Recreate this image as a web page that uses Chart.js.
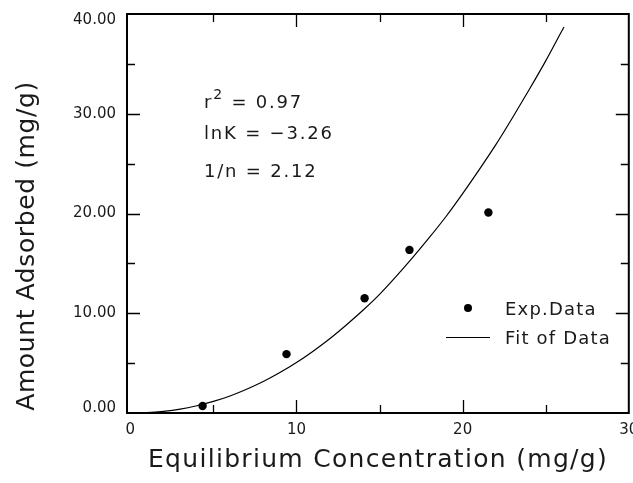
<!DOCTYPE html>
<html>
<head>
<meta charset="utf-8">
<script src="https://cdn.jsdelivr.net/npm/chart.js@4.4.1/dist/chart.umd.min.js"></script>
<style>
  html, body { margin: 0; padding: 0; background: #fff; }
  #c { display: block; }
</style>
</head>
<body>
<canvas id="c" width="633" height="483"></canvas>
<script>
// ---- data ----
const expC = [4.35, 9.4, 14.1, 16.8, 21.55];
const expQ = [0.7, 5.9, 11.5, 16.35, 20.1];
const fitC = [0, 1, 2, 3, 4, 5, 6, 7, 8, 9, 10, 11, 12, 13, 14, 15, 16, 17, 18, 19, 20, 21, 22, 23, 24, 25, 26, 26.1];
const fitQ = [0, 0.04, 0.17, 0.39, 0.73, 1.16, 1.71, 2.38, 3.15, 4.05, 5.06, 6.2, 7.45, 8.83, 10.3, 11.9, 13.7, 15.6, 17.6, 19.7, 22.0, 24.4, 26.9, 29.6, 32.4, 35.3, 38.4, 38.7];
const xTicks = [0, 10, 20, 30];
const yTicks = [0, 10, 20, 30, 40];
const xMinor = [5, 15, 25];
const yMinor = [5, 15, 25, 35];
const seriesNames = ['Exp.Data', 'Fit of Data'];
const annotations = ['= 0.97', 'lnK = \u22123.26', '1/n = 2.12'];
const xTitle = 'Equilibrium Concentration (mg/g)';
const yTitle = 'Amount Adsorbed (mg/g)';

const FONT = '"DejaVu Sans", "Liberation Sans", sans-serif';
const TXT = '#1a1a1a';

function spaced(ctx, px) {
  if ('letterSpacing' in ctx) ctx.letterSpacing = px + 'px';
}

const framePlugin = {
  id: 'frame',
  afterDraw(chart) {
    const { ctx, chartArea: a, scales } = chart;
    const xs = scales.x, ys = scales.y;
    ctx.save();
    ctx.strokeStyle = '#000';
    ctx.lineWidth = 2;
    ctx.strokeRect(a.left, a.top, a.right - a.left, a.bottom - a.top);
    ctx.lineWidth = 1.3;
    const big = 13, small = 8;
    ctx.beginPath();
    const drawX = (v, len) => {
      const px = Math.round(xs.getPixelForValue(v)) + 0.5;
      ctx.moveTo(px, a.bottom); ctx.lineTo(px, a.bottom - len);
      ctx.moveTo(px, a.top); ctx.lineTo(px, a.top + len);
    };
    const drawY = (v, len) => {
      const py = Math.round(ys.getPixelForValue(v)) + 0.5;
      ctx.moveTo(a.left, py); ctx.lineTo(a.left + len, py);
      ctx.moveTo(a.right, py); ctx.lineTo(a.right - len, py);
    };
    xTicks.forEach(v => { if (v > 0 && v < 30) drawX(v, big); });
    xMinor.forEach(v => drawX(v, small));
    yTicks.forEach(v => { if (v > 0 && v < 40) drawY(v, big); });
    yMinor.forEach(v => drawY(v, small));
    ctx.stroke();

    // y tick labels (end labels nudged inside the frame, as in the reference)
    ctx.fillStyle = TXT;
    ctx.font = '15px ' + FONT;
    ctx.textAlign = 'right';
    ctx.textBaseline = 'middle';
    yTicks.forEach(v => {
      let py = ys.getPixelForValue(v);
      if (v === 40) py += 6;
      if (v === 0) py -= 5;
      ctx.fillText(v.toFixed(2), a.left - 11, py);
    });

    // annotations
    ctx.textAlign = 'left';
    const ax = 204;
    spaced(ctx, 1.8);
    ctx.font = '18px ' + FONT;
    ctx.fillText('r', ax, 103);
    const rw = ctx.measureText('r').width;
    ctx.font = '14px ' + FONT;
    ctx.fillText('2', ax + rw, 95);
    const sw = ctx.measureText('2').width;
    ctx.font = '18px ' + FONT;
    ctx.fillText(' ' + annotations[0], ax + rw + sw, 103);
    ctx.fillText(annotations[1], ax, 134);
    ctx.fillText(annotations[2], ax, 172);

    // legend
    ctx.fillStyle = '#000';
    ctx.beginPath();
    ctx.arc(468, 308, 4, 0, Math.PI * 2);
    ctx.fill();
    ctx.strokeStyle = '#000';
    ctx.lineWidth = 1.2;
    ctx.beginPath();
    ctx.moveTo(446, 337.5); ctx.lineTo(490, 337.5);
    ctx.stroke();
    ctx.fillStyle = TXT;
    spaced(ctx, 1.2);
    ctx.font = '18px ' + FONT;
    ctx.fillText(seriesNames[0], 505, 310);
    ctx.fillText(seriesNames[1], 505, 339);

    // axis titles
    ctx.font = '25px ' + FONT;
    ctx.textAlign = 'center';
    spaced(ctx, 1.3);
    ctx.fillText(xTitle, 378, 460);
    ctx.save();
    ctx.translate(27, 246);
    ctx.rotate(-Math.PI / 2);
    spaced(ctx, 0.6);
    ctx.fillText(yTitle, 0, 0);
    ctx.restore();
    ctx.restore();
  }
};

new Chart(document.getElementById('c'), {
  type: 'scatter',
  data: {
    datasets: [
      {
        label: seriesNames[0],
        data: expC.map((c, i) => ({ x: c, y: expQ[i] })),
        pointRadius: 4.2,
        pointBackgroundColor: '#000',
        pointBorderColor: '#000',
        pointBorderWidth: 0,
        showLine: false
      },
      {
        label: seriesNames[1],
        data: fitC.map((c, i) => ({ x: c, y: fitQ[i] })),
        showLine: true,
        pointRadius: 0,
        borderColor: '#000',
        borderWidth: 1.2,
        cubicInterpolationMode: 'monotone',
        fill: false
      }
    ]
  },
  options: {
    responsive: false,
    devicePixelRatio: 1,
    animation: false,
    events: [],
    layout: { padding: { top: 14, right: 3, left: 0, bottom: 0 } },
    plugins: { legend: { display: false }, tooltip: { enabled: false } },
    scales: {
      x: {
        type: 'linear',
        min: -0.2,
        max: 30,
        afterBuildTicks: s => { s.ticks = xTicks.map(v => ({ value: v })); },
        afterFit: s => { s.height = 70; s.paddingLeft = 0; s.paddingRight = 0; },
        grid: { display: false, drawTicks: false },
        border: { display: false },
        ticks: {
          padding: 8,
          color: TXT,
          font: { family: FONT, size: 15 },
          maxRotation: 0,
          callback: v => String(v)
        },
        title: { display: false }
      },
      y: {
        type: 'linear',
        min: 0,
        max: 40,
        afterBuildTicks: s => { s.ticks = yTicks.map(v => ({ value: v })); },
        afterFit: s => { s.width = 127; s.paddingTop = 0; s.paddingBottom = 0; },
        grid: { display: false, drawTicks: false },
        border: { display: false },
        ticks: { display: false },
        title: { display: false }
      }
    }
  },
  plugins: [framePlugin]
});
</script>
</body>
</html>
